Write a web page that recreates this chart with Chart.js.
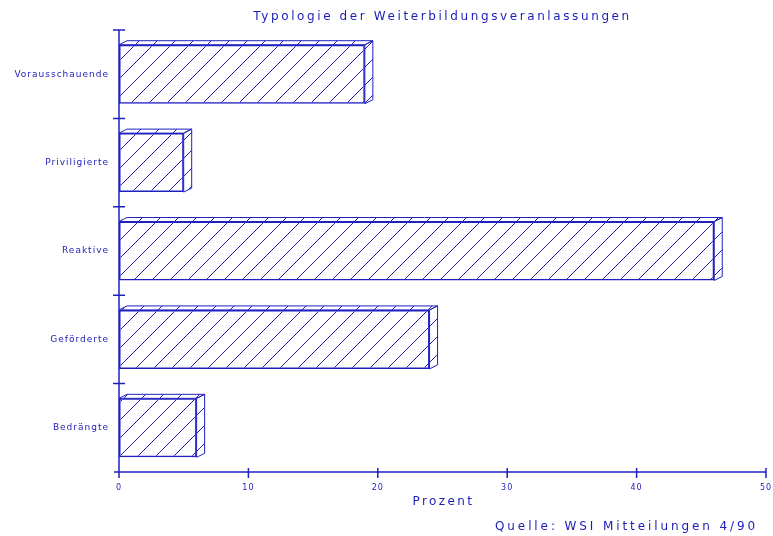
<!DOCTYPE html>
<html>
<head>
<meta charset="utf-8">
<title>Typologie der Weiterbildungsveranlassungen</title>
<script src="https://cdn.jsdelivr.net/npm/chart.js@4.4.1/dist/chart.umd.min.js"></script>
<style>
    html, body { margin: 0; padding: 0; background: #fff; }
    #box { width: 773px; height: 536px; }
</style>
</head>
<body>
<div id="box"><canvas id="grafico"></canvas></div>
<script>
// Daten
const kategorien = ['Vorausschauende', 'Priviligierte', 'Reaktive', 'Geförderte', 'Bedrängte'];
const prozent = [19, 5, 46, 24, 6];
const xTicks = [0, 10, 20, 30, 40, 50];

const titel = 'Typologie der Weiterbildungsveranlassungen';
const achsenTitel = 'Prozent';
const quelle = 'Quelle: WSI Mitteilungen 4/90';

const blau = '#2020c0';
const textBlau = '#1c1cb8';
const tiefeX = 8;
const tiefeY = 4;

// Schraffur-Muster (45 Grad, 18px Abstand)
function schraffur() {
    const c = document.createElement('canvas');
    c.width = 18;
    c.height = 18;
    const g = c.getContext('2d');
    g.strokeStyle = blau;
    g.lineWidth = 1;
    g.beginPath();
    g.moveTo(-1, 19); g.lineTo(19, -1);
    g.moveTo(-1, 1); g.lineTo(1, -1);
    g.moveTo(17, 19); g.lineTo(19, 17);
    g.stroke();
    return g.createPattern(c, 'repeat');
}
const muster = schraffur();

// 3D-Tiefe der Balken
const tiefePlugin = {
    id: 'tiefe',
    afterDatasetsDraw(chart) {
        const ctx = chart.ctx;
        const meta = chart.getDatasetMeta(0);
        ctx.save();
        ctx.strokeStyle = blau;
        ctx.lineWidth = 1;
        ctx.fillStyle = muster;
        meta.data.forEach(bar => {
            const p = bar.getProps(['x', 'y', 'base', 'height'], true);
            const oben = p.y - p.height / 2;
            const unten = p.y + p.height / 2;
            // Deckfläche
            ctx.beginPath();
            ctx.moveTo(p.base, oben);
            ctx.lineTo(p.base + tiefeX, oben - tiefeY);
            ctx.lineTo(p.x + tiefeX, oben - tiefeY);
            ctx.lineTo(p.x, oben);
            ctx.closePath();
            ctx.fill();
            ctx.stroke();
            // Seitenfläche
            ctx.beginPath();
            ctx.moveTo(p.x, oben);
            ctx.lineTo(p.x + tiefeX, oben - tiefeY);
            ctx.lineTo(p.x + tiefeX, unten - tiefeY);
            ctx.lineTo(p.x, unten);
            ctx.closePath();
            ctx.fill();
            ctx.stroke();
        });
        ctx.restore();
    }
};

// Achsen mit Strichen, Titel und Quelle
const rahmenPlugin = {
    id: 'rahmen',
    beforeDraw(chart) {
        chart.ctx.letterSpacing = '1px';
    },
    afterDraw(chart) {
        const ctx = chart.ctx;
        const xs = chart.scales.x;
        const ys = chart.scales.y;
        const links = xs.getPixelForValue(0);
        const unten = ys.bottom;
        ctx.save();
        ctx.strokeStyle = blau;
        ctx.lineWidth = 1.5;
        ctx.beginPath();
        ctx.moveTo(links - 5, unten);
        ctx.lineTo(xs.getPixelForValue(50), unten);
        ctx.moveTo(links, ys.top);
        ctx.lineTo(links, unten + 6);
        xTicks.forEach(v => {
            const px = xs.getPixelForValue(v);
            ctx.moveTo(px, unten - 4);
            ctx.lineTo(px, unten + 6);
        });
        for (let i = 0; i < kategorien.length; i++) {
            const py = ys.getPixelForValue(i - 0.5);
            ctx.moveTo(links - 6, py);
            ctx.lineTo(links + 6, py);
        }
        ctx.stroke();

        ctx.fillStyle = textBlau;
        ctx.textBaseline = 'middle';
        ctx.font = '12px "DejaVu Sans"';
        ctx.textAlign = 'center';
        const mitte = (xs.left + xs.right) / 2;
        ctx.letterSpacing = '2.6px';
        ctx.fillText(titel, mitte, 17);
        ctx.letterSpacing = '2.4px';
        ctx.fillText(achsenTitel, mitte + 1, 502);
        ctx.letterSpacing = '2.9px';
        ctx.textAlign = 'right';
        ctx.fillText(quelle, 758, 527);
        ctx.restore();
    }
};

const ctx = document.getElementById('grafico').getContext('2d');
new Chart(ctx, {
    type: 'bar',
    data: {
        labels: kategorien,
        datasets: [{
            data: prozent,
            backgroundColor: muster,
            borderColor: blau,
            borderWidth: 1.5,
            borderSkipped: false,
            barPercentage: 0.667,
            categoryPercentage: 1
        }]
    },
    options: {
        indexAxis: 'y',
        responsive: true,
        maintainAspectRatio: false,
        animation: false,
        layout: {
            padding: { top: 30, right: 7, left: 0, bottom: 0 }
        },
        plugins: {
            legend: { display: false },
            tooltip: { enabled: false },
            title: { display: false }
        },
        scales: {
            x: {
                min: 0,
                max: 50,
                afterBuildTicks: scale => {
                    scale.ticks = xTicks.map(v => ({ value: v }));
                },
                afterFit: scale => {
                    scale.height = 64;
                    scale.paddingLeft = 0;
                    scale.paddingRight = 0;
                },
                grid: { display: false },
                border: { display: false },
                ticks: {
                    color: textBlau,
                    padding: 3,
                    maxRotation: 0,
                    font: { family: 'DejaVu Sans', size: 8 }
                }
            },
            y: {
                afterFit: scale => {
                    scale.width = 119;
                    scale.paddingTop = 0;
                    scale.paddingBottom = 0;
                },
                grid: { display: false },
                border: { display: false },
                ticks: {
                    color: textBlau,
                    padding: 2,
                    font: { family: 'DejaVu Sans', size: 9 }
                }
            }
        }
    },
    plugins: [tiefePlugin, rahmenPlugin]
});
</script>
</body>
</html>
